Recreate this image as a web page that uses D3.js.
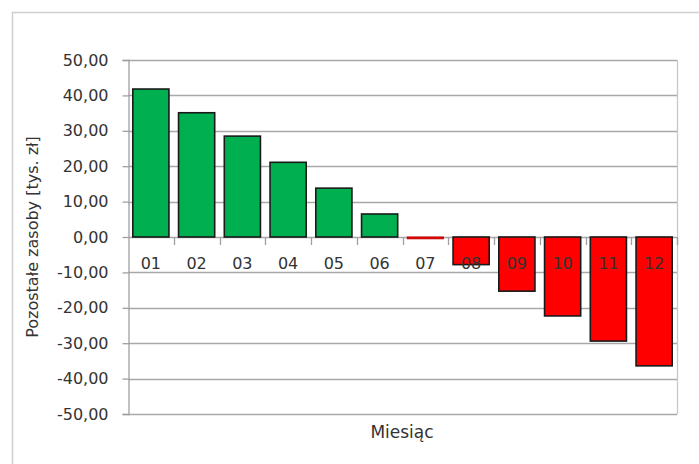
<!DOCTYPE html>
<html>
<head>
<meta charset="utf-8">
<script src="https://cdn.jsdelivr.net/npm/d3@7"></script>
<style>
  body { margin: 0; background: #fff; }
  text { font-family: "DejaVu Sans", sans-serif; fill: #333; }
</style>
</head>
<body>
<div class="chart"></div>
<script>
// months and remaining funds (thousand zl)
const months = ["01", "02", "03", "04", "05", "06", "07", "08", "09", "10", "11", "12"];
const funds = [41.8, 35.1, 28.5, 21.1, 13.8, 6.5, -0.5, -7.8, -15.3, -22.3, -29.4, -36.4];
const yTicks = [50, 40, 30, 20, 10, 0, -10, -20, -30, -40, -50];

const W = 699, H = 464;
const plotL = 128, plotR = 677, plotT = 60, plotB = 414;

const svg = d3.select(".chart").append("svg")
  .attr("width", W)
  .attr("height", H);

// outer chart frame
svg.append("rect")
  .attr("x", 12.5).attr("y", 12.5)
  .attr("width", 700).attr("height", 470)
  .attr("fill", "#fff")
  .attr("stroke", "#d0d0d0")
  .attr("stroke-width", 1.5);

const x = d3.scaleBand()
  .domain(months)
  .range([plotL, plotR])
  .paddingInner(0.21)
  .paddingOuter(0.105);

const y = d3.scaleLinear()
  .domain([-50, 50])
  .range([plotB, plotT]);

// gridlines
svg.append("g")
  .selectAll("line")
  .data(yTicks)
  .enter().append("line")
  .attr("x1", plotL).attr("x2", plotR)
  .attr("y1", d => Math.round(y(d)) + 0.5)
  .attr("y2", d => Math.round(y(d)) + 0.5)
  .attr("stroke", "#a8a8a8")
  .attr("stroke-width", 1.3);

// plot right edge
svg.append("line")
  .attr("x1", plotR + 0.5).attr("x2", plotR + 0.5)
  .attr("y1", plotT).attr("y2", plotB)
  .attr("stroke", "#c8c8c8")
  .attr("stroke-width", 1.3);

// y axis
const yAxis = svg.append("g")
  .attr("transform", `translate(${plotL + 0.5},0)`)
  .call(d3.axisLeft(y)
    .tickValues(yTicks)
    .tickSize(6)
    .tickPadding(14)
    .tickFormat(d => d3.format(".2f")(d).replace(".", ",").replace("−", "-")));
yAxis.selectAll("path, line").attr("stroke", "#a0a0a0").attr("stroke-width", 1.3);
yAxis.selectAll("text")
  .attr("font-size", 16)
  .attr("font-family", "DejaVu Sans")
  .attr("fill", "#333");

// bars
svg.append("g")
  .selectAll("rect")
  .data(funds)
  .enter().append("rect")
  .attr("x", (d, i) => x(months[i]))
  .attr("width", x.bandwidth())
  .attr("y", d => y(Math.max(0, d)))
  .attr("height", d => Math.abs(y(d) - y(0)))
  .attr("fill", d => d >= 0 ? "#00b050" : "#ff0000")
  .attr("stroke", d => Math.abs(d) < 1 ? "#c00000" : "#1a1a1a")
  .attr("stroke-width", d => Math.abs(d) < 1 ? 1 : 1.6);

// x axis ticks at category boundaries
const step = x.step();
const bounds = months.map((m, i) => plotL + i * step).slice(1).concat([plotR]);
svg.append("g")
  .selectAll("line")
  .data(bounds)
  .enter().append("line")
  .attr("x1", d => Math.round(d) + 0.5).attr("x2", d => Math.round(d) + 0.5)
  .attr("y1", y(0)).attr("y2", y(0) + 8)
  .attr("stroke", "#a0a0a0")
  .attr("stroke-width", 1.3);

// category labels
svg.append("g")
  .selectAll("text")
  .data(months)
  .enter().append("text")
  .attr("x", d => x(d) + x.bandwidth() / 2)
  .attr("y", y(0) + 32)
  .attr("text-anchor", "middle")
  .attr("font-size", 16)
  .text(d => d);

// axis titles
svg.append("text")
  .attr("transform", `translate(38,${(plotT + plotB) / 2}) rotate(-90)`)
  .attr("text-anchor", "middle")
  .attr("font-size", 16)
  .text("Pozostałe zasoby [tys. zł]");

svg.append("text")
  .attr("x", 402)
  .attr("y", 438)
  .attr("text-anchor", "middle")
  .attr("font-size", 17)
  .text("Miesiąc");
</script>
</body>
</html>
